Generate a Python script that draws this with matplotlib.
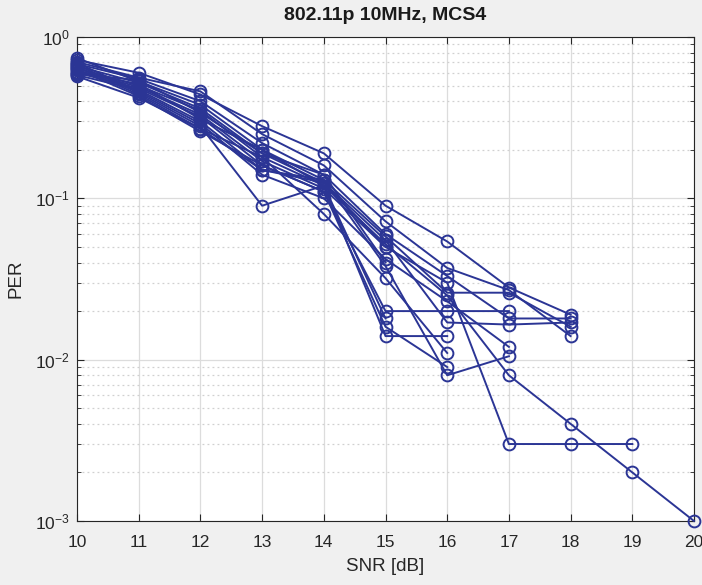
import matplotlib
matplotlib.use("Agg")
import matplotlib.pyplot as plt
from matplotlib.ticker import LogLocator, FixedLocator, NullFormatter

plt.rcParams['font.family'] = ['Liberation Sans', 'DejaVu Sans']

snr = [10, 11, 12, 13, 14, 15, 16, 17, 18, 19, 20]

per_series = [
    [0.64, 0.50, 0.35, 0.18, 0.12, 0.052, 0.025, 0.008, 0.004, 0.002, 0.001],
    [0.62, 0.49, 0.33, 0.17, 0.115, 0.050, 0.030, 0.003, 0.003, 0.003],
    [0.72, 0.60, 0.44, 0.28, 0.19, 0.090, 0.054, 0.028, 0.019],
    [0.70, 0.56, 0.46, 0.25, 0.16, 0.072, 0.037, 0.027, 0.014],
    [0.68, 0.55, 0.40, 0.22, 0.14, 0.060, 0.033, 0.018, 0.018],
    [0.74, 0.53, 0.38, 0.20, 0.13, 0.058, 0.026, 0.026, 0.016],
    [0.66, 0.52, 0.36, 0.19, 0.125, 0.055, 0.017, 0.0165, 0.017],
    [0.60, 0.48, 0.32, 0.16, 0.11, 0.020, 0.020, 0.020],
    [0.58, 0.47, 0.30, 0.15, 0.13, 0.038, 0.008, 0.0105],
    [0.69, 0.46, 0.29, 0.14, 0.10, 0.042, 0.023, 0.012],
    [0.67, 0.45, 0.28, 0.09, 0.12, 0.014, 0.014],
    [0.65, 0.44, 0.27, 0.18, 0.08, 0.032, 0.011],
    [0.63, 0.43, 0.26, 0.16, 0.11, 0.016, 0.009],
    [0.61, 0.51, 0.31, 0.20, 0.12, 0.018],
    [0.59, 0.54, 0.34, 0.19, 0.14, 0.040],
    [0.57, 0.42, 0.27, 0.15, 0.125, 0.050],
]

title = "802.11p 10MHz, MCS4"
xlabel = "SNR [dB]"
ylabel = "PER"
xticks = [10, 11, 12, 13, 14, 15, 16, 17, 18, 19, 20]

color = '#2b3595'
fig = plt.figure(figsize=(7.02, 5.85), dpi=100, facecolor='#f0f0f0')
ax = fig.add_axes([0.1097, 0.1094, 0.9886 - 0.1097, 0.9368 - 0.1094])
ax.set_facecolor('white')

for s in per_series:
    ax.plot(snr[:len(s)], s, '-o', color=color, lw=1.4, markersize=8.5,
            markerfacecolor='none', markeredgewidth=1.4, clip_on=False, zorder=3)

ax.set_yscale('log')
ax.set_xlim(10, 20)
ax.set_ylim(1e-3, 1)
ax.xaxis.set_major_locator(FixedLocator(xticks))
ax.yaxis.set_major_locator(LogLocator(base=10, numticks=10))
ax.yaxis.set_minor_locator(LogLocator(base=10, subs=range(2, 10), numticks=20))
ax.yaxis.set_minor_formatter(NullFormatter())

ax.grid(True, which='major', color='#dcdcdc', lw=0.9, ls='-')
ax.grid(True, which='minor', axis='y', color='#d0d0d0', lw=0.9, ls=(0, (1.5, 2.5)))
ax.set_axisbelow(True)

for sp in ax.spines.values():
    sp.set_color('#262626')
    sp.set_linewidth(0.8)
ax.tick_params(which='both', direction='in', top=True, right=True, colors='#262626',
               labelsize=12.5)
ax.tick_params(which='major', length=5)
ax.tick_params(which='minor', length=3)
ax.tick_params(axis='x', pad=10)
ax.tick_params(axis='y', pad=5)

ax.set_title(title, fontsize=14, fontweight='bold', color='#1a1a1a', pad=12)
ax.set_xlabel(xlabel, fontsize=13.5, color='#262626', labelpad=6)
ax.set_ylabel(ylabel, fontsize=13.5, color='#262626', labelpad=8)

fig.savefig('out.png', dpi=100, facecolor=fig.get_facecolor())
